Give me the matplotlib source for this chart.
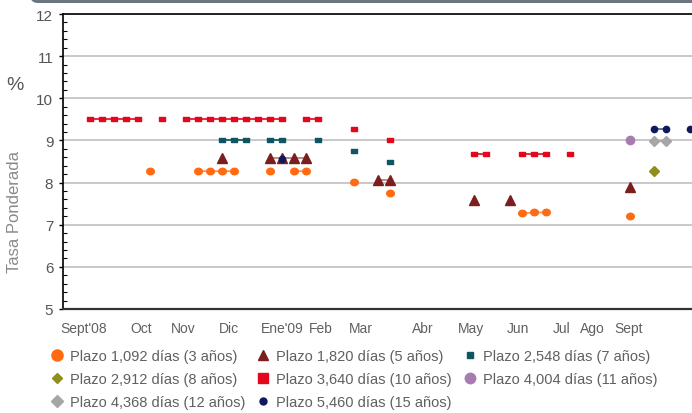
import numpy as np
import matplotlib
matplotlib.use("Agg")
import matplotlib.pyplot as plt
from matplotlib.lines import Line2D
from matplotlib.patches import FancyBboxPatch

plt.rcParams['font.family'] = ['Liberation Sans', 'DejaVu Sans']

# auction slots (index along the x axis)
n_slots = 51
months = ["Sept'08", "Oct", "Nov", "Dic", "Ene'09", "Feb", "Mar", "Abr", "May",
          "Jun", "Jul", "Ago", "Sept"]
month_pos = [-0.5, 4.25, 7.75, 11.6, 16.0, 19.25, 22.6, 27.75, 31.75, 35.7, 39.3, 41.9, 44.9]

# Plazo 1,092 dias (3 anos)
x_1092 = [5, 9, 10, 11, 12, 15, 17, 18, 22, 25, 36, 37, 38, 45]
y_1092 = [8.27, 8.27, 8.27, 8.27, 8.27, 8.27, 8.27, 8.27, 8.01, 7.75, 7.27, 7.29, 7.29, 7.21]
# Plazo 1,820 dias (5 anos)
x_1820 = [11, 15, 16, 17, 18, 24, 25, 32, 35, 45]
y_1820 = [8.58, 8.58, 8.58, 8.58, 8.58, 8.07, 8.07, 7.59, 7.59, 7.90]
# Plazo 2,548 dias (7 anos)
x_2548 = [11, 12, 13, 15, 16, 19, 22, 25]
y_2548 = [9.0, 9.0, 9.0, 9.0, 9.0, 9.0, 8.74, 8.50]
# Plazo 2,912 dias (8 anos)
x_2912 = [47]
y_2912 = [8.28]
# Plazo 3,640 dias (10 anos)
x_3640 = [0, 1, 2, 3, 4, 6, 8, 9, 10, 11, 12, 13, 14, 15, 16, 18, 19, 22, 25,
          32, 33, 36, 37, 38, 40]
y_3640 = [9.52] * 17 + [9.26, 9.01] + [8.67] * 6
# Plazo 4,004 dias (11 anos)
x_4004 = [45]
y_4004 = [9.0]
# Plazo 4,368 dias (12 anos)
x_4368 = [47, 48]
y_4368 = [8.99, 8.99]
# Plazo 5,460 dias (15 anos)
x_5460 = [16, 47, 48, 50]
y_5460 = [8.57, 9.27, 9.27, 9.27]

rect = [(-1, -0.6), (1, -0.6), (1, 0.6), (-1, 0.6), (-1, -0.6)]
oval = [(np.cos(t), 0.85 * np.sin(t)) for t in np.linspace(0, 2 * np.pi, 30)]

series = [
    # label, x, y, marker color, line color, marker, size, legend marker, legend size
    ("Plazo 1,092 días (3 años)", x_1092, y_1092, "#ff6a13", "#ff8c4a", oval, 5.5, "o", 8),
    ("Plazo 1,820 días (5 años)", x_1820, y_1820, "#7a1e1e", "#b07a7a", "^", 7, "^", 7),
    ("Plazo 2,548 días (7 años)", x_2548, y_2548, "#0f5660", "#0f5660", rect, 4.8, "s", 4.5),
    ("Plazo 2,912 días (8 años)", x_2912, y_2912, "#8f8f1f", "#8f8f1f", "D", 5.5, "D", 5.5),
    ("Plazo 3,640 días (10 años)", x_3640, y_3640, "#e3061c", "#e3061c", rect, 4.8, "s", 6.5),
    ("Plazo 4,004 días (11 años)", x_4004, y_4004, "#a87cb0", "#a87cb0", "o", 6, "o", 7.5),
    ("Plazo 4,368 días (12 años)", x_4368, y_4368, "#a6a6a6", "#a6a6a6", "D", 4.8, "D", 6.5),
    ("Plazo 5,460 días (15 años)", x_5460, y_5460, "#0c1a5e", "#505a8a", "o", 4.5, "o", 5),
]

fig = plt.figure(figsize=(6.92, 4.14), dpi=100)
ax = fig.add_axes([63 / 692, 104 / 414, 1 - 63 / 692, 295 / 414])

for label, xs, ys, mc, lc, mk, ms, lmk, lms in series:
    full = np.full(n_slots, np.nan)
    full[xs] = ys
    ax.plot(np.arange(n_slots), full, color=lc, lw=1.2, zorder=2)
    ax.plot(xs, ys, ls="none", marker=mk, ms=ms, color=mc, mec=mc, zorder=3)

ax.set_xlim(-2.25, 50.17)
ax.set_ylim(5, 12)
ax.set_yticks(range(5, 13))
ax.set_yticks(np.arange(5, 12.01, 0.2), minor=True)
ax.yaxis.grid(True, color="#c4c4c4", lw=1.3, zorder=0)
ax.set_axisbelow(True)
ax.tick_params(axis="y", which="major", direction="out", length=3, width=1,
               colors="black", labelcolor="#555555", labelsize=11, pad=4)
ax.tick_params(axis="y", which="minor", direction="in", length=3, width=0.8, colors="black")

ax.set_xticks(month_pos)
ax.set_xticklabels(months)
ax.tick_params(axis="x", length=0, pad=9, labelsize=10, labelcolor="#606060")

ax.spines["right"].set_visible(False)
ax.spines["top"].set_color("black")
ax.spines["top"].set_linewidth(1.2)
ax.spines["left"].set_color("black")
ax.spines["left"].set_linewidth(1.2)
ax.spines["bottom"].set_color("#333333")
ax.spines["bottom"].set_linewidth(1.6)

fig.text(15 / 692, 1 - 86 / 414, "%", fontsize=14, color="#555555", ha="center", va="center")
fig.text(15 / 692, 1 - 212 / 414, "Tasa Ponderada", fontsize=12, color="#8a8a8a",
         rotation=90, ha="center", va="center")

# header bar
fig.patches.append(FancyBboxPatch((30, 410), 700, 30, boxstyle="round,pad=0,rounding_size=8",
                                  transform=None, color="#6b7582", lw=0))

# legend (column-major order so rows read as in the original)
order = [0, 3, 6, 1, 4, 7, 2, 5]
handles = []
for i in order:
    label, xs, ys, mc, lc, mk, ms, lmk, lms = series[i]
    handles.append(Line2D([], [], ls="none", marker=lmk, ms=lms, color=mc, mec=mc, label=label))
leg = fig.legend(handles=handles, loc="upper left", bbox_to_anchor=(50 / 692, 1 - 350 / 414),
                 ncol=3, frameon=False, fontsize=10.5, handlelength=1.0, handletextpad=0.4,
                 columnspacing=0.7, labelspacing=0.62, borderaxespad=0, borderpad=0)
for t in leg.get_texts():
    t.set_color("#606060")

fig.savefig("out.png", dpi=100)
